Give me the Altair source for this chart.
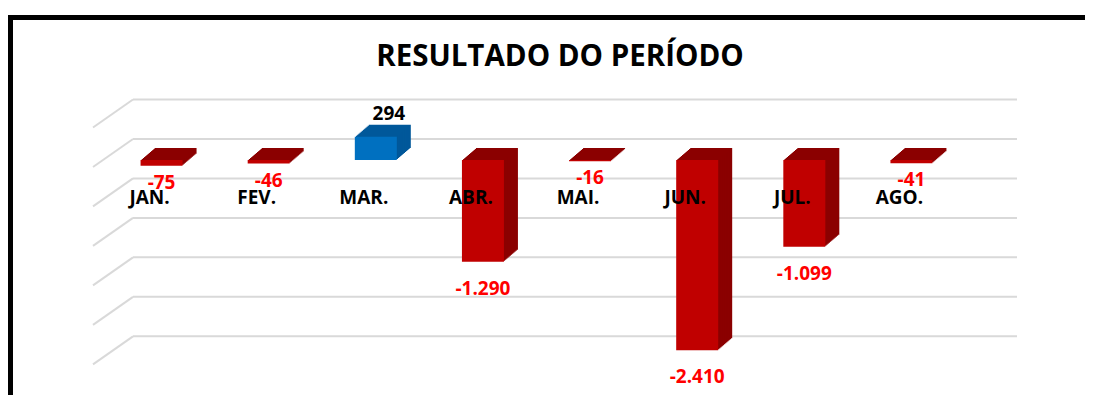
import altair as alt
import pandas as pd

months = ["JAN.", "FEV.", "MAR.", "ABR.", "MAI.", "JUN.", "JUL.", "AGO."]
values = [-75, -46, 294, -1290, -16, -2410, -1099, -41]
labels = ["-75", "-46", "294", "-1.290", "-16", "-2.410", "-1.099", "-41"]
grid_values = [500, 0, -500, -1000, -1500, -2000, -2500]
title_text = ["RESULTADO DO PERÍODO"]

FONT = "Open Sans"
RED_FRONT, RED_SIDE = "#C00000", "#8B0000"
BLUE_FRONT, BLUE_SIDE = "#0070C0", "#00589A"

df = pd.DataFrame({"mes": months, "valor": values, "rotulo": labels})
df["frente"] = [BLUE_FRONT if v > 0 else RED_FRONT for v in values]
df["lado"] = [BLUE_SIDE if v > 0 else RED_SIDE for v in values]
df["cor_txt"] = ["#000000" if v > 0 else "#FF0000" for v in values]
grid_df = pd.DataFrame({"g": grid_values})
frame_df = pd.DataFrame({"titulo": title_text})

xs = alt.Scale(domain=months, paddingInner=0.608, paddingOuter=0.304)
ys = alt.Scale(domain=[-2800, 1000], nice=False, zero=False)
X = alt.X("mes:N", scale=xs, axis=None, sort=months)
Y = alt.Y("valor:Q", scale=ys, axis=None)

base = alt.Chart(df)

# gridlines (back wall + side wall)
grid_h = alt.Chart(grid_df).mark_rule(color="#D9D9D9", strokeWidth=2, yOffset=-21, y2Offset=-21).encode(
    y=alt.Y("g:Q", scale=ys, axis=None), y2="g:Q", x=alt.value(25), x2=alt.value(909))
grid_s = alt.Chart(grid_df).mark_rule(color="#D9D9D9", strokeWidth=2, yOffset=-21, y2Offset=7).encode(
    y=alt.Y("g:Q", scale=ys, axis=None), y2="g:Q", x=alt.value(25), x2=alt.value(-15))

# extrusion (depth) of the bars
depth = []
N = 12
for k in range(N, 0, -1):
    dx = k * 14.0 / N
    depth.append(base.mark_bar(xOffset=dx, x2Offset=dx, yOffset=-k, y2Offset=-k).encode(
        x=X, y=Y, color=alt.Color("lado:N", scale=None)))

front = base.mark_bar().encode(x=X, y=Y, color=alt.Color("frente:N", scale=None))

month_txt = base.mark_text(font=FONT, fontWeight="bold", fontSize=19, color="#000000",
                           baseline="middle", dx=-12).encode(
    x=X, y=alt.value(117), text="mes:N")

lab_big = base.transform_filter("datum.valor < -500").mark_text(
    font=FONT, fontWeight="bold", fontSize=19, baseline="middle", dy=27).encode(
    x=X, y=Y, text="rotulo:N", color=alt.Color("cor_txt:N", scale=None))
lab_small = base.transform_filter("datum.valor < 0 && datum.valor >= -500").mark_text(
    font=FONT, fontWeight="bold", fontSize=19, baseline="middle", dy=17).encode(
    x=X, y=Y, text="rotulo:N", color=alt.Color("cor_txt:N", scale=None))
lab_pos = base.transform_filter("datum.valor > 0").mark_text(
    font=FONT, fontWeight="bold", fontSize=19, baseline="middle", dy=-23, dx=13).encode(
    x=X, y=Y, text="rotulo:N", color=alt.Color("cor_txt:N", scale=None))

title_mark = alt.Chart(frame_df).mark_text(
    font=FONT, fontWeight="bold", fontSize=29.5, color="#000000", align="center",
    baseline="alphabetic").encode(x=alt.value(452), y=alt.value(-15), text="titulo:N")

frame_top = alt.Chart(frame_df).mark_rule(color="#000000", strokeWidth=5).encode(
    x=alt.value(-100), x2=alt.value(977), y=alt.value(-63.5))
frame_left = alt.Chart(frame_df).mark_rule(color="#000000", strokeWidth=5).encode(
    x=alt.value(-97.5), y=alt.value(-66), y2=alt.value(320))

chart = alt.layer(
    grid_s, grid_h, *depth, front, month_txt, lab_big, lab_small, lab_pos,
    title_mark, frame_top, frame_left
).properties(
    width=857, height=300,
    padding={"left": 100, "top": 73, "right": 120, "bottom": 14},
    autosize=alt.AutoSizeParams(type="none"),
).configure(background="#FFFFFF").configure_view(stroke="transparent", strokeWidth=0)

chart.save("out.html", embed_options={"renderer": "svg", "actions": False})
